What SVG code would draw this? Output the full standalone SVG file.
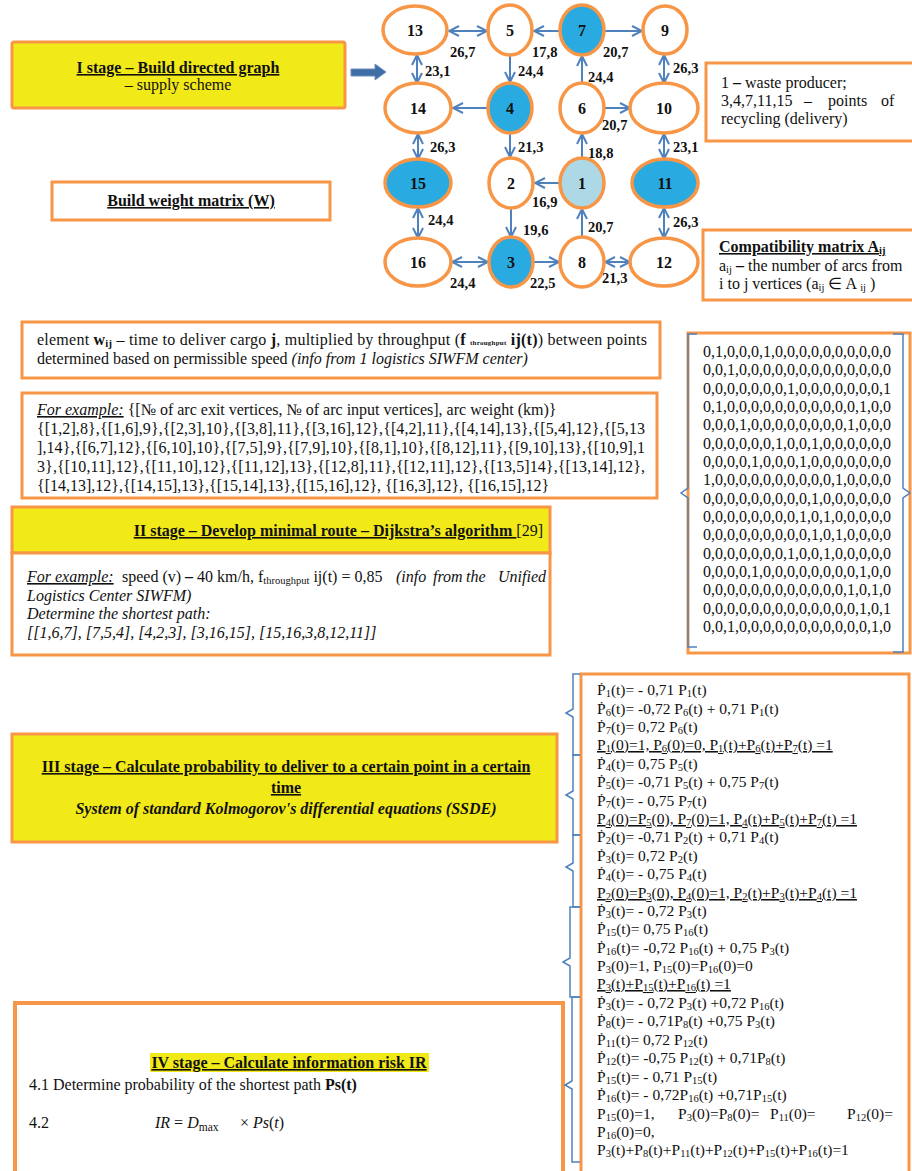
<svg xmlns="http://www.w3.org/2000/svg" width="912" height="1171" viewBox="0 0 912 1171">
<style>
text{font-family:"Liberation Serif","Times New Roman",serif;fill:#111}
.box{stroke:#F79646;stroke-width:3;fill:#fff}
.yel{stroke:#F79646;stroke-width:3;fill:#F2E919}
.nd{stroke:#F79646;stroke-width:3.5;fill:#fff}
.bl{fill:#29ABE2}
.lb{fill:#ADD8E6}
.nl{font-size:16px;font-weight:bold;text-anchor:middle}
.el{font-size:14.5px;font-weight:bold}
.ed{stroke:#4F81BD;stroke-width:2;fill:none}
.one{marker-end:url(#ah)}
.two{marker-end:url(#ah);marker-start:url(#ah)}
.br{stroke:#4F81BD;stroke-width:1.5;fill:none}
.b{font-weight:bold}
.i{font-style:italic}
.u{text-decoration:underline}
.s{font-size:10.5px;baseline-shift:-2px}
.eq{font-size:15.5px}
.t16{font-size:16px}
</style>
<defs>
<marker id="ah" viewBox="0 0 12 12" refX="11" refY="6" markerWidth="12" markerHeight="12" markerUnits="userSpaceOnUse" orient="auto-start-reverse">
<path d="M1,1 L11,6 L1,11" fill="none" stroke="#4F81BD" stroke-width="2"/>
</marker>
</defs>

<!-- Stage I box -->
<g id="stage1">
<rect class="yel" x="12" y="42" width="333" height="66" rx="2"/>
<text x="178" y="73" text-anchor="middle" class="b u t16">I stage – Build directed graph</text>
<text x="178" y="90" text-anchor="middle" class="t16">– supply scheme</text>
</g>
<g id="bigArrow">
<polygon points="351,69 375,69 375,64 386,72 375,80 375,76 351,76" fill="#3F6DA6" stroke="#6C8EBF" stroke-width="1"/>
</g>
<g id="weightMatrix">
<rect class="box" x="52" y="182" width="278" height="38"/>
<text x="191" y="206" text-anchor="middle" class="b u t16">Build weight matrix (W)</text>
</g>

<!-- connectors -->
<g id="connectors">
<line class="ed two" x1="449" y1="31" x2="487" y2="31"/>
<line class="ed one" x1="560" y1="31" x2="534" y2="31"/>
<line class="ed one" x1="605" y1="31" x2="642" y2="31"/>
<line class="ed two" x1="417" y1="55" x2="417" y2="83"/>
<line class="ed one" x1="510" y1="56" x2="510" y2="82"/>
<line class="ed one" x1="582" y1="83" x2="582" y2="56"/>
<line class="ed two" x1="664" y1="55" x2="664" y2="83"/>
<line class="ed one" x1="488" y1="108" x2="453" y2="108"/>
<line class="ed one" x1="605" y1="108" x2="630" y2="108"/>
<line class="ed two" x1="418" y1="134" x2="418" y2="159"/>
<line class="ed one" x1="510" y1="134" x2="510" y2="157"/>
<line class="ed one" x1="582" y1="158" x2="582" y2="134"/>
<line class="ed two" x1="664" y1="134" x2="664" y2="159"/>
<line class="ed one" x1="560" y1="183" x2="535" y2="183"/>
<line class="ed two" x1="418" y1="208" x2="418" y2="238"/>
<line class="ed one" x1="511" y1="209" x2="511" y2="237"/>
<line class="ed one" x1="582" y1="237" x2="582" y2="209"/>
<line class="ed two" x1="664" y1="208" x2="664" y2="238"/>
<line class="ed two" x1="452" y1="262" x2="488" y2="262"/>
<line class="ed one" x1="534" y1="262" x2="559" y2="262"/>
<line class="ed two" x1="605" y1="262" x2="630" y2="262"/>
<text class="el" x="450" y="57">26,7</text>
<text class="el" x="532" y="57">17,8</text>
<text class="el" x="603" y="57">20,7</text>
<text class="el" x="425" y="76">23,1</text>
<text class="el" x="518" y="76">24,4</text>
<text class="el" x="588" y="82">24,4</text>
<text class="el" x="673" y="73">26,3</text>
<text class="el" x="602" y="130">20,7</text>
<text class="el" x="430" y="152">26,3</text>
<text class="el" x="518" y="152">21,3</text>
<text class="el" x="588" y="158">18,8</text>
<text class="el" x="673" y="152">23,1</text>
<text class="el" x="532" y="207">16,9</text>
<text class="el" x="428" y="225">24,4</text>
<text class="el" x="523" y="235">19,6</text>
<text class="el" x="588" y="232">20,7</text>
<text class="el" x="673" y="227">26,3</text>
<text class="el" x="450" y="288">24,4</text>
<text class="el" x="530" y="288">22,5</text>
<text class="el" x="602" y="283">21,3</text>
</g>

<!-- nodes -->
<g id="n13"><ellipse class="nd" cx="415" cy="30" rx="32" ry="24"/><text class="nl" x="415" y="36">13</text></g>
<g id="n5"><ellipse class="nd" cx="510" cy="30" rx="22" ry="25"/><text class="nl" x="510" y="36">5</text></g>
<g id="n7"><ellipse class="nd bl" cx="582" cy="30" rx="22" ry="25"/><text class="nl" x="582" y="36">7</text></g>
<g id="n9"><ellipse class="nd" cx="665" cy="30" rx="22" ry="24"/><text class="nl" x="665" y="36">9</text></g>
<g id="n14"><ellipse class="nd" cx="418" cy="108" rx="33" ry="25"/><text class="nl" x="418" y="114">14</text></g>
<g id="n4"><ellipse class="nd bl" cx="510" cy="108" rx="22" ry="25"/><text class="nl" x="510" y="114">4</text></g>
<g id="n6"><ellipse class="nd" cx="582" cy="108" rx="22" ry="25"/><text class="nl" x="582" y="114">6</text></g>
<g id="n10"><ellipse class="nd" cx="664" cy="108" rx="34" ry="25"/><text class="nl" x="664" y="114">10</text></g>
<g id="n15"><ellipse class="nd bl" cx="418" cy="183" rx="33" ry="24"/><text class="nl" x="418" y="189">15</text></g>
<g id="n2"><ellipse class="nd" cx="511" cy="183" rx="22" ry="25"/><text class="nl" x="511" y="189">2</text></g>
<g id="n1"><ellipse class="nd lb" cx="582" cy="183" rx="22" ry="25"/><text class="nl" x="582" y="189">1</text></g>
<g id="n11"><ellipse class="nd bl" cx="665" cy="183" rx="33" ry="24"/><text class="nl" x="665" y="189">11</text></g>
<g id="n16"><ellipse class="nd" cx="418" cy="262" rx="33" ry="24"/><text class="nl" x="418" y="268">16</text></g>
<g id="n3"><ellipse class="nd bl" cx="511" cy="262" rx="22" ry="25"/><text class="nl" x="511" y="268">3</text></g>
<g id="n8"><ellipse class="nd" cx="582" cy="262" rx="22" ry="25"/><text class="nl" x="582" y="268">8</text></g>
<g id="n12"><ellipse class="nd" cx="664" cy="262" rx="34" ry="24"/><text class="nl" x="664" y="268">12</text></g>

<!-- legend -->
<g id="legend">
<rect class="box" x="706" y="63" width="210" height="78"/>
<text class="t16" x="721" y="88">1 <tspan class="b">–</tspan> waste producer;</text>
<text class="t16" y="106"><tspan x="721">3,4,7,11,15</tspan><tspan x="804">–</tspan><tspan x="828">points</tspan><tspan x="881">of</tspan></text>
<text class="t16" x="721" y="124">recycling (delivery)</text>
</g>
<g id="compat">
<rect class="box" x="703" y="230" width="215" height="70"/>
<text class="t16" x="719" y="252"><tspan class="b u">Compatibility matrix A<tspan class="s">ij</tspan></tspan></text>
<text class="t16" x="719" y="271">a<tspan class="s">ij</tspan> <tspan class="b">–</tspan> the number of arcs from</text>
<text class="t16" x="719" y="289">i to j vertices (a<tspan class="s">ij</tspan> ∈ A <tspan class="s">ij</tspan> )</text>
</g>

<!-- element box -->
<g id="elementBox">
<rect class="box" x="22" y="322" width="638" height="56"/>
<text class="t16" x="37" y="345" textLength="610" lengthAdjust="spacing">element <tspan class="b">w<tspan class="s">ij</tspan></tspan> – time to deliver cargo <tspan class="b">j</tspan>, multiplied by throughput (<tspan class="b">f <tspan font-size="7">throughput</tspan> ij(t)</tspan>) between points</text>
<text class="t16" x="37" y="364">determined based on permissible speed <tspan class="i">(info from 1 logistics SIWFM center)</tspan></text>
</g>
<g id="exampleBox">
<rect class="box" x="22" y="393" width="635" height="105"/>
<text class="t16" x="37" y="415"><tspan class="i u">For example:</tspan>  {[№ of arc exit vertices, № of arc input vertices], arc weight (km)}</text>
<text class="t16" x="37" y="434" textLength="608" lengthAdjust="spacing">{[1,2],8},{[1,6],9},{[2,3],10},{[3,8],11},{[3,16],12},{[4,2],11},{[4,14],13},{[5,4],12},{[5,13</text>
<text class="t16" x="37" y="453" textLength="608" lengthAdjust="spacing">],14},{[6,7],12},{[6,10],10},{[7,5],9},{[7,9],10},{[8,1],10},{[8,12],11},{[9,10],13},{[10,9],1</text>
<text class="t16" x="37" y="472" textLength="608" lengthAdjust="spacing">3},{[10,11],12},{[11,10],12},{[11,12],13},{[12,8],11},{[12,11],12},{[13,5]14},{[13,14],12},</text>
<text class="t16" x="37" y="491">{[14,13],12},{[14,15],13},{[15,14],13},{[15,16],12}, {[16,3],12}, {[16,15],12}</text>
</g>

<!-- stage II -->
<g id="stage2">
<rect class="yel" x="12" y="507" width="538" height="46"/>
<text class="t16" x="543" y="536" text-anchor="end"><tspan class="b u">II stage – Develop minimal route – Dijkstra’s algorithm </tspan>[29]</text>
</g>
<g id="stage2body">
<rect class="box" x="12" y="553" width="538" height="102"/>
<text class="t16" y="582"><tspan x="27" class="i u">For example:</tspan><tspan x="122">speed (v) <tspan class="b">–</tspan> 40 km/h, f<tspan class="s">throughput</tspan> ij(t) = 0,85</tspan><tspan class="i" x="396">(info</tspan><tspan class="i" x="433">from</tspan><tspan class="i" x="466">the</tspan><tspan class="i" x="498">Unified</tspan></text>
<text class="t16 i" x="27" y="601">Logistics Center SIWFM)</text>
<text class="t16 i" x="27" y="619">Determine the shortest path:</text>
<text class="t16 i" x="27" y="638">[[1,6,7], [7,5,4], [4,2,3], [3,16,15], [15,16,3,8,12,11]]</text>
</g>

<!-- matrix -->
<g id="matrix">
<rect class="box" x="688" y="333" width="222" height="320"/>
<path class="br" d="M697,334 H688 V488 L681,493 L688,498 V647 H697"/>
<path class="br" d="M893,334 H903 V488 L910,493 L903,498 V652 H893"/>
<g class="t16">
<text x="703" y="357">0,1,0,0,0,1,0,0,0,0,0,0,0,0,0,0</text>
<text x="703" y="375">0,0,1,0,0,0,0,0,0,0,0,0,0,0,0,0</text>
<text x="703" y="394">0,0,0,0,0,0,0,1,0,0,0,0,0,0,0,1</text>
<text x="703" y="412">0,1,0,0,0,0,0,0,0,0,0,0,0,1,0,0</text>
<text x="703" y="430">0,0,0,1,0,0,0,0,0,0,0,0,1,0,0,0</text>
<text x="703" y="449">0,0,0,0,0,0,1,0,0,1,0,0,0,0,0,0</text>
<text x="703" y="467">0,0,0,0,1,0,0,0,1,0,0,0,0,0,0,0</text>
<text x="703" y="485">1,0,0,0,0,0,0,0,0,0,0,1,0,0,0,0</text>
<text x="703" y="504">0,0,0,0,0,0,0,0,0,1,0,0,0,0,0,0</text>
<text x="703" y="522">0,0,0,0,0,0,0,0,1,0,1,0,0,0,0,0</text>
<text x="703" y="540">0,0,0,0,0,0,0,0,0,1,0,1,0,0,0,0</text>
<text x="703" y="559">0,0,0,0,0,0,0,1,0,0,1,0,0,0,0,0</text>
<text x="703" y="577">0,0,0,0,1,0,0,0,0,0,0,0,0,1,0,0</text>
<text x="703" y="595">0,0,0,0,0,0,0,0,0,0,0,0,1,0,1,0</text>
<text x="703" y="614">0,0,0,0,0,0,0,0,0,0,0,0,0,1,0,1</text>
<text x="703" y="632">0,0,1,0,0,0,0,0,0,0,0,0,0,0,1,0</text>
</g>
</g>

<!-- stage III -->
<g id="stage3">
<rect class="yel" x="12" y="734" width="545" height="108"/>
<text x="286" y="772" text-anchor="middle" class="b u t16">III stage – Calculate probability to deliver to a certain point in a certain</text>
<text x="286" y="793" text-anchor="middle" class="b u t16">time</text>
<text x="286" y="814" text-anchor="middle" class="b i t16">System of standard Kolmogorov's differential equations (SSDE)</text>
</g>

<!-- stage IV -->
<g id="stage4">
<rect x="15" y="1003" width="548" height="175" fill="#fff" stroke="#F79646" stroke-width="4"/>
<rect x="150" y="1053" width="279" height="19" fill="#F2E919"/>
<text x="289" y="1068" text-anchor="middle" class="b u t16">IV stage – Calculate information risk IR</text>
<text class="t16" x="29" y="1090">4.1 Determine probability of the shortest path <tspan class="b">Ps(t)</tspan></text>
<text class="t16" x="29" y="1128">4.2</text>
<text class="t16" x="155" y="1128"><tspan class="i">IR</tspan> = <tspan class="i">D</tspan><tspan font-size="11.5" baseline-shift="-3">max</tspan><tspan x="240">× <tspan class="i">Ps</tspan>(<tspan class="i">t</tspan>)</tspan></text>
</g>

<!-- equations -->
<g id="equations">
<rect class="box" x="581" y="674" width="328" height="500"/>
<path class="br" d="M580,674 H573 V709 L566,713 L573,717 V755 H580"/>
<path class="br" d="M580,755 H573 V791 L566,795 L573,799 V835 H580"/>
<path class="br" d="M580,835 H573 V863 L566,867 L573,871 V907 H580"/>
<path class="br" d="M580,907 H570 V958 L563,962 L570,966 V997 H580"/>
<path class="br" d="M580,997 H572 V1081 L565,1085 L572,1089 V1162 H580"/>
<g class="eq">
<text x="597" y="695">Ṗ<tspan class="s">1</tspan>(t)= - 0,71 P<tspan class="s">1</tspan>(t)</text>
<text x="597" y="714">Ṗ<tspan class="s">6</tspan>(t)= -0,72 P<tspan class="s">6</tspan>(t) + 0,71 P<tspan class="s">1</tspan>(t)</text>
<text x="597" y="732">Ṗ<tspan class="s">7</tspan>(t)= 0,72 P<tspan class="s">6</tspan>(t)</text>
<text x="597" y="750" class="u">P<tspan class="s">1</tspan>(0)=1, P<tspan class="s">6</tspan>(0)=0, P<tspan class="s">1</tspan>(t)+P<tspan class="s">6</tspan>(t)+P<tspan class="s">7</tspan>(t) =1</text>
<text x="597" y="769">Ṗ<tspan class="s">4</tspan>(t)=  0,75 P<tspan class="s">5</tspan>(t)</text>
<text x="597" y="787">Ṗ<tspan class="s">5</tspan>(t)= -0,71 P<tspan class="s">5</tspan>(t) + 0,75 P<tspan class="s">7</tspan>(t)</text>
<text x="597" y="806">Ṗ<tspan class="s">7</tspan>(t)= - 0,75 P<tspan class="s">7</tspan>(t)</text>
<text x="597" y="824" class="u">P<tspan class="s">4</tspan>(0)=P<tspan class="s">5</tspan>(0), P<tspan class="s">7</tspan>(0)=1, P<tspan class="s">4</tspan>(t)+P<tspan class="s">5</tspan>(t)+P<tspan class="s">7</tspan>(t) =1</text>
<text x="597" y="842">Ṗ<tspan class="s">2</tspan>(t)= -0,71 P<tspan class="s">2</tspan>(t) + 0,71 P<tspan class="s">4</tspan>(t)</text>
<text x="597" y="861">Ṗ<tspan class="s">3</tspan>(t)= 0,72 P<tspan class="s">2</tspan>(t)</text>
<text x="597" y="879">Ṗ<tspan class="s">4</tspan>(t)= - 0,75 P<tspan class="s">4</tspan>(t)</text>
<text x="597" y="898" class="u">P<tspan class="s">2</tspan>(0)=P<tspan class="s">3</tspan>(0), P<tspan class="s">4</tspan>(0)=1, P<tspan class="s">2</tspan>(t)+P<tspan class="s">3</tspan>(t)+P<tspan class="s">4</tspan>(t) =1</text>
<text x="597" y="916">Ṗ<tspan class="s">3</tspan>(t)= - 0,72 P<tspan class="s">3</tspan>(t)</text>
<text x="597" y="934">Ṗ<tspan class="s">15</tspan>(t)= 0,75 P<tspan class="s">16</tspan>(t)</text>
<text x="597" y="953">Ṗ<tspan class="s">16</tspan>(t)= -0,72 P<tspan class="s">16</tspan>(t) + 0,75 P<tspan class="s">3</tspan>(t)</text>
<text x="597" y="971">P<tspan class="s">3</tspan>(0)=1, P<tspan class="s">15</tspan>(0)=P<tspan class="s">16</tspan>(0)=0</text>
<text x="597" y="989" class="u">P<tspan class="s">3</tspan>(t)+P<tspan class="s">15</tspan>(t)+P<tspan class="s">16</tspan>(t) =1</text>
<text x="597" y="1008">Ṗ<tspan class="s">3</tspan>(t)= - 0,72 P<tspan class="s">3</tspan>(t) +0,72 P<tspan class="s">16</tspan>(t)</text>
<text x="597" y="1026">Ṗ<tspan class="s">8</tspan>(t)= - 0,71P<tspan class="s">8</tspan>(t) +0,75 P<tspan class="s">3</tspan>(t)</text>
<text x="597" y="1045">Ṗ<tspan class="s">11</tspan>(t)= 0,72 P<tspan class="s">12</tspan>(t)</text>
<text x="597" y="1063">Ṗ<tspan class="s">12</tspan>(t)= -0,75 P<tspan class="s">12</tspan>(t) + 0,71P<tspan class="s">8</tspan>(t)</text>
<text x="597" y="1082">Ṗ<tspan class="s">15</tspan>(t)= - 0,71 P<tspan class="s">15</tspan>(t)</text>
<text x="597" y="1100">Ṗ<tspan class="s">16</tspan>(t)= - 0,72P<tspan class="s">16</tspan>(t) +0,71P<tspan class="s">15</tspan>(t)</text>
<text y="1119"><tspan x="597">P<tspan class="s">15</tspan>(0)=1,</tspan><tspan x="678">P<tspan class="s">3</tspan>(0)=P<tspan class="s">8</tspan>(0)=</tspan><tspan x="770">P<tspan class="s">11</tspan>(0)=</tspan><tspan x="847">P<tspan class="s">12</tspan>(0)=</tspan></text>
<text x="597" y="1137">P<tspan class="s">16</tspan>(0)=0,</text>
<text x="597" y="1155">P<tspan class="s">3</tspan>(t)+P<tspan class="s">8</tspan>(t)+P<tspan class="s">11</tspan>(t)+P<tspan class="s">12</tspan>(t)+P<tspan class="s">15</tspan>(t)+P<tspan class="s">16</tspan>(t)=1</text>
</g>
</g>
</svg>
